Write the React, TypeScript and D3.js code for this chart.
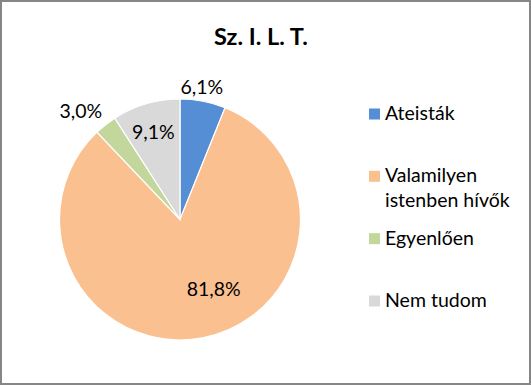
import { useEffect, useRef } from 'react';
import * as d3 from 'd3';

const W = 531;
const H = 386;

const categories = ['Ateisták', 'Valamilyen istenben hívők', 'Egyenlően', 'Nem tudom'];
const legendLines = [['Ateisták'], ['Valamilyen', 'istenben hívők'], ['Egyenlően'], ['Nem tudom']];
const values = [6.1, 81.8, 3.0, 9.1];
const colors = ['#558ED5', '#FAC090', '#C3D69B', '#D9D9D9'];
// label placement: radius as fraction of pie radius, angle shift in degrees
const labelR = [1.115, 0.643, 1.22, 0.76];
const labelShift = [-1.6, -15, -4.3, -0.6];

const CX = 180;
const CY = 219.5;
const R = 120.5;
const FONT = 'Lato, "Open Sans", sans-serif';

export default function App() {
  const svgRef = useRef<SVGSVGElement>(null);

  useEffect(() => {
    const svg = d3.select(svgRef.current);
    svg.selectAll('*').remove();

    svg.append('rect').attr('x', 0).attr('y', 0).attr('width', W).attr('height', H).attr('fill', '#fff');
    svg.append('rect').attr('x', 1).attr('y', 1).attr('width', W - 2).attr('height', H - 3)
      .attr('fill', 'none').attr('stroke', '#868686').attr('stroke-width', 2);

    // Title
    svg.append('text').attr('x', 261).attr('y', 45)
      .attr('text-anchor', 'middle').attr('font-family', FONT).attr('font-weight', 700)
      .attr('font-size', 23.5).attr('fill', '#000').text('Sz. I. L. T.');

    const pie = d3.pie<number>().sort(null).value(d => d);
    const arcs = pie(values);
    const arc = d3.arc<d3.PieArcDatum<number>>().innerRadius(0).outerRadius(R);

    const g = svg.append('g').attr('transform', `translate(${CX},${CY})`);
    g.selectAll('path').data(arcs).enter().append('path')
      .attr('d', arc)
      .attr('fill', (_, i) => colors[i])
      .attr('stroke', '#fff').attr('stroke-width', 1.2);

    // Data labels
    const labelPos = (d: d3.PieArcDatum<number>, i: number) => {
      const a = (d.startAngle + d.endAngle) / 2 + (labelShift[i] * Math.PI) / 180;
      return [Math.sin(a) * R * labelR[i], -Math.cos(a) * R * labelR[i]];
    };
    g.selectAll('text.lbl').data(arcs).enter().append('text')
      .attr('class', 'lbl')
      .attr('x', (d, i) => labelPos(d, i)[0])
      .attr('y', (d, i) => labelPos(d, i)[1])
      .attr('dy', '0.36em')
      .attr('text-anchor', 'middle').attr('font-family', FONT).attr('font-size', 19.5)
      .attr('fill', '#000')
      .text(d => d.data.toFixed(1).replace('.', ',') + '%');

    // Legend
    const ly = d3.scaleLinear([0, categories.length - 1], [120, 307]);
    const lg = svg.append('g');
    categories.forEach((c, i) => {
      const y = ly(i);
      lg.append('rect').attr('x', 369).attr('y', y - 11.5).attr('width', 11).attr('height', 11)
        .attr('fill', colors[i]);
      const t = lg.append('text').attr('x', 385).attr('y', y)
        .attr('font-family', FONT).attr('font-size', 19.5).attr('fill', '#000');
      legendLines[i].forEach((line, j) => {
        t.append('tspan').attr('x', 385).attr('dy', j === 0 ? 0 : 25).text(line);
      });
      t.append('title').text(c);
    });
  }, []);

  return (
    <svg ref={svgRef} width={W} height={H}
      style={{ position: 'absolute', left: 0, top: 0, display: 'block' }} />
  );
}
